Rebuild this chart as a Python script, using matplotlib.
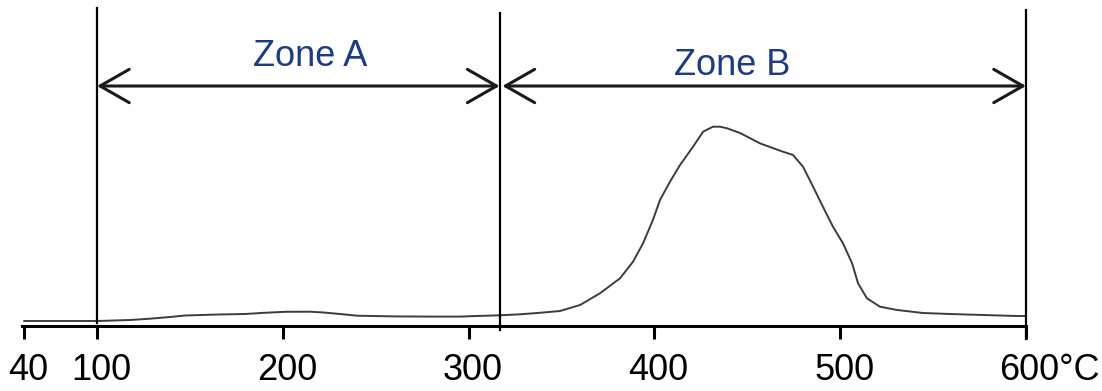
import matplotlib
matplotlib.use("Agg")
import matplotlib.pyplot as plt
from matplotlib.transforms import ScaledTranslation

# Temperature (°C) and signal intensity (arbitrary units)
temp = [60.7, 100, 117.8, 128.5, 139.3, 147.4, 165, 179.7, 190, 201.2, 214.6,
        222, 230.8, 240, 260, 280, 295.4, 300.8, 316.9, 327.7, 338.4, 349.2,
        360, 370.7, 381.5, 388.5, 393.9, 399.2, 403, 408.4, 413.8, 420.8,
        426.2, 431.5, 435.3, 439.1, 446.1, 456.8, 467.6, 474.6, 480, 485.4,
        490.7, 496.1, 501.5, 506.4, 509.6, 514.4, 521.4, 530.6, 544.6, 559.1,
        576.9, 595.2, 600]
signal = [5, 5, 6, 7.3, 9, 10.5, 11.5, 12, 13.2, 14.2, 14.3,
          13.5, 12, 10.3, 9.6, 9.4, 9.4, 9.8, 10.7, 11.7, 13.2, 15,
          21, 32.7, 47.7, 64.3, 82.7, 106, 126, 144.3, 161, 179.3,
          194.3, 199.3, 199.3, 197.7, 193, 182.7, 175.3, 171, 159.3, 139.3,
          119.3, 99.3, 82.7, 62.7, 42.7, 27.7, 19.3, 16, 13, 12,
          11, 10, 10]

tick_pos = [60.7, 100, 200, 300, 400, 500, 600]
tick_labels = ["40", "100", "200", "300", "400", "500", "600°C"]

zone_bounds = [100, 317, 600]
zone_names = ["Zone A", "Zone B"]

W, H = 1102, 391
fig = plt.figure(figsize=(W / 100, H / 100), dpi=100)
px_per_deg = 1.858
x_left = 100 - (97 - 22) / px_per_deg
ax = fig.add_axes([22 / W, (H - 326) / H, (1026 - 22) / W, 326 / H])
ax.set_xlim(x_left, 600)
ax.set_ylim(0, 326)

ax.plot(temp, signal, color="#3c3c3c", lw=1.4, solid_capstyle="round",
        solid_joinstyle="round")

for s in ["left", "right", "top"]:
    ax.spines[s].set_visible(False)
ax.spines["bottom"].set_linewidth(2.2)
ax.set_yticks([])
ax.set_xticks(tick_pos)
ax.set_xticklabels(tick_labels, fontsize=26, fontfamily="Liberation Sans")
ax.tick_params(axis="x", length=9.5, width=2.2, pad=10, color="black")

for i, lab in enumerate(ax.get_xticklabels()):
    if i == len(tick_labels) - 1:
        lab.set_horizontalalignment("left")
        lab.set_transform(lab.get_transform() + ScaledTranslation(-0.27, 0, fig.dpi_scale_trans))
    else:
        lab.set_transform(lab.get_transform() + ScaledTranslation(0.04, 0, fig.dpi_scale_trans))

# vertical boundary lines
vl_top = [318, 313, 316]
vl_bot = [3, -4, -13]
for xb, yt, yb in zip(zone_bounds, vl_top, vl_bot):
    ax.plot([xb, xb], [yb, yt], color="black", lw=1.6, clip_on=False)

# zone arrows
arrow_y = 240
starts = [zone_bounds[0], zone_bounds[1] + 1.2]
ends = [zone_bounds[1] - 0.3, zone_bounds[2]]
for s, e in zip(starts, ends):
    ax.annotate("", xy=(e, arrow_y), xytext=(s, arrow_y),
                arrowprops=dict(arrowstyle="<->,head_length=21,head_width=12",
                                mutation_scale=1, color="#1a1a1a", lw=2.2,
                                shrinkA=0, shrinkB=0))

label_x = [214.6, 441.8]
label_y = [260, 251]
for name, lx, ly in zip(zone_names, label_x, label_y):
    ax.text(lx, ly, name, ha="center", va="baseline", fontsize=26,
            color="#1f3b80", fontfamily="Liberation Sans")

fig.savefig("out.png", dpi=100)
